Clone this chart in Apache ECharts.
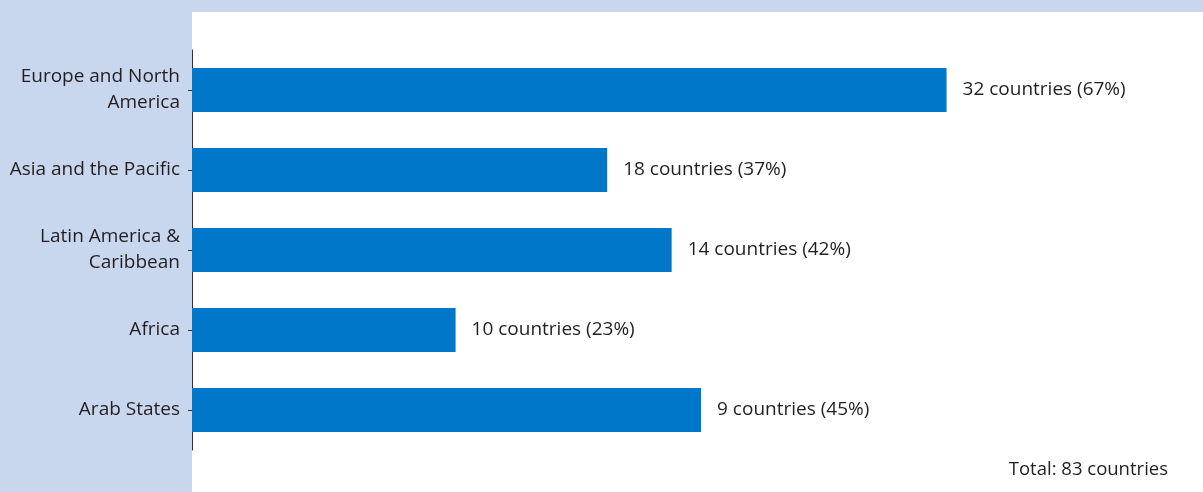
<!DOCTYPE html>
<html>
<head>
<meta charset="utf-8">
<style>
  html, body { margin: 0; padding: 0; background: #c8d6ee; }
  #chart { width: 1203px; height: 492px; }
</style>
<script src="https://cdn.jsdelivr.net/npm/echarts@6/dist/echarts.min.js"></script>
</head>
<body>
<div id="chart"></div>
<script>
// Regions, top to bottom
const regions = [
  'Europe and North America',
  'Asia and the Pacific',
  'Latin America & Caribbean',
  'Africa',
  'Arab States'
];
// Number of countries per region
const countryCounts = [32, 18, 14, 10, 9];
// Share of countries in each region (%)
const sharePercent = [66.7, 36.7, 42.4, 23.3, 45.0];
const totalCountries = 83;

const FONT = '"Open Sans", "Noto Sans", sans-serif';
const TEXT = '#231f20';
const LABEL_SIZE = 19;
const LABEL_WIDTH = 176;

// Word-wrap a category name so that no line is wider than maxWidth,
// without leaving trailing spaces that would spoil right alignment.
const measureCtx = document.createElement('canvas').getContext('2d');
function wrapLabel(text, maxWidth) {
  measureCtx.font = LABEL_SIZE + 'px ' + FONT;
  const words = text.split(' ');
  const lines = [];
  let line = '';
  words.forEach(w => {
    const next = line ? line + ' ' + w : w;
    if (line && measureCtx.measureText(next).width > maxWidth) {
      lines.push(line);
      line = w;
    } else {
      line = next;
    }
  });
  if (line) lines.push(line);
  return lines.join('\n');
}

const chart = echarts.init(document.getElementById('chart'), null, { renderer: 'canvas' });

chart.setOption({
  backgroundColor: '#c8d6ee',
  animation: false,
  graphic: [
    {
      type: 'rect',
      z: -10,
      silent: true,
      shape: { x: 192, y: 12, width: 1011, height: 480 },
      style: { fill: '#ffffff' }
    },
    {
      type: 'text',
      right: 35,
      top: 460,
      style: {
        text: 'Total: ' + totalCountries + ' countries',
        font: '18.5px ' + FONT,
        fill: TEXT
      }
    }
  ],
  grid: { left: 192, top: 50, width: 905, height: 400, containLabel: false },
  xAxis: {
    type: 'value',
    min: 0,
    max: 80,
    show: false
  },
  yAxis: {
    type: 'category',
    inverse: true,
    data: regions,
    axisLine: { show: true, lineStyle: { color: '#333333', width: 1 } },
    axisTick: { show: true, alignWithLabel: true, length: 4, lineStyle: { color: '#333333' } },
    axisLabel: {
      margin: 12,
      align: 'right',
      lineHeight: 26,
      fontSize: LABEL_SIZE,
      fontFamily: FONT,
      color: TEXT,
      formatter: v => wrapLabel(v, LABEL_WIDTH)
    },
    splitLine: { show: false }
  },
  series: [{
    type: 'bar',
    data: sharePercent,
    barWidth: 44,
    itemStyle: { color: '#0077c8' },
    label: {
      show: true,
      position: 'right',
      distance: 16,
      fontSize: 19,
      fontFamily: FONT,
      color: TEXT,
      formatter: p => countryCounts[p.dataIndex] + ' countries (' + Math.round(p.value) + '%)'
    }
  }]
});
</script>
</body>
</html>
